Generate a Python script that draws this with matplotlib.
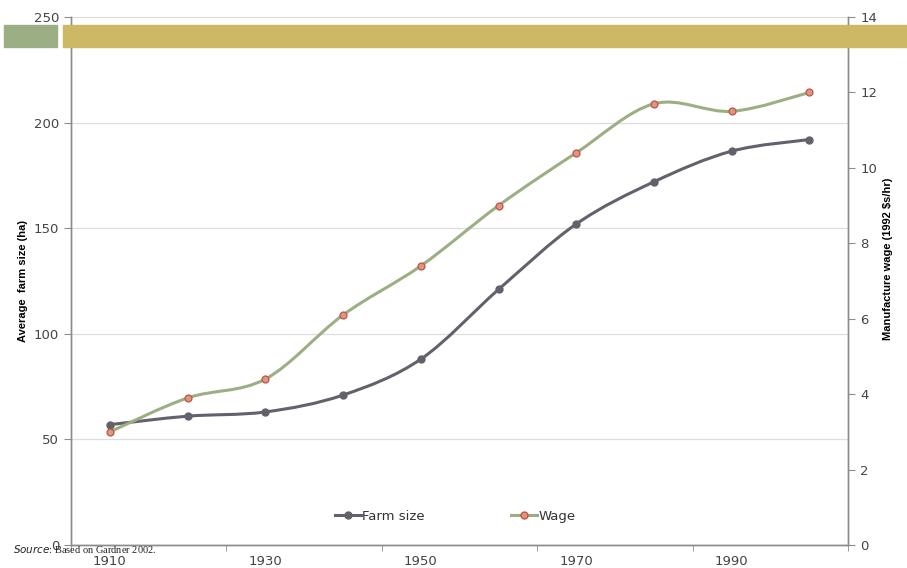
import numpy as np
import matplotlib.pyplot as plt
from matplotlib.path import Path
from matplotlib.patches import PathPatch, Rectangle
from matplotlib.lines import Line2D

years = [1910, 1920, 1930, 1940, 1950, 1960, 1970, 1980, 1990, 2000]
farm_size = [57, 61, 63, 71, 88, 121, 152, 172, 186.5, 192]
wage = [3.0, 3.9, 4.4, 6.1, 7.4, 9.0, 10.4, 11.7, 11.5, 12.0]
year_ticks = [1910, 1930, 1950, 1970, 1990]

farm_col = '#62626c'
wage_col = '#9caf84'
axis_col = '#8c8c8c'


def smooth_path(x, y, t=1/6):
    # Bezier curve through every point, like a spreadsheet "smoothed line"
    x = np.asarray(x, float)
    y = np.asarray(y, float)
    pts = np.column_stack([x, y])
    verts = [pts[0]]
    codes = [Path.MOVETO]
    n = len(pts)
    for i in range(n - 1):
        p0 = pts[i - 1] if i > 0 else pts[i]
        p1 = pts[i]
        p2 = pts[i + 1]
        p3 = pts[i + 2] if i + 2 < n else pts[i + 1]
        c1 = p1 + (p2 - p0) * t
        c2 = p2 - (p3 - p1) * t
        verts += [c1, c2, p2]
        codes += [Path.CURVE4] * 3
    return Path(verts, codes)


fig = plt.figure(figsize=(9.07, 5.68), dpi=100)
ax = fig.add_axes([0.0783, 0.0405, 0.857, 0.9295])
ax2 = ax.twinx()

ax.set_xlim(1905, 2005)
ax.set_ylim(0, 250)
ax2.set_ylim(0, 14)

ax.set_yticks(range(0, 251, 50))
ax2.set_yticks(range(0, 15, 2))
ax.set_xticks(year_ticks)
ax.set_xticks(range(1905, 2006, 20), minor=True)

for a in (ax, ax2):
    a.spines['top'].set_visible(False)
    for s in ('left', 'right', 'bottom'):
        a.spines[s].set_color(axis_col)
        a.spines[s].set_linewidth(1.0)
    a.tick_params(colors='#444444', labelsize=9.5, length=5, width=0.8)
    a.tick_params(axis='y', color=axis_col)
ax.tick_params(axis='x', which='major', length=0, pad=7.5)
ax.tick_params(axis='x', which='minor', length=4, color=axis_col)
ax.grid(axis='y', color='#dddddd', linewidth=0.9)
ax.set_axisbelow(True)

ax.set_ylabel('Average  farm size (ha)', fontsize=8, fontweight='bold',
              family='Liberation Sans', labelpad=4)
ax.yaxis.set_label_coords(-0.055, 0.5)
ax2.set_ylabel('Manufacture wage (1992 $s/hr)', fontsize=8, fontweight='bold',
               family='Liberation Sans')
ax2.yaxis.set_label_coords(1.045, 0.542)

# smoothed lines
ax.add_patch(PathPatch(smooth_path(years, farm_size), fill=False,
                       edgecolor=farm_col, linewidth=2.2, zorder=3))
ax2.add_patch(PathPatch(smooth_path(years, wage), fill=False,
                        edgecolor=wage_col, linewidth=2.2, zorder=3))
ax.plot(years, farm_size, 'o', color=farm_col, markersize=5, zorder=4)
ax2.plot(years, wage, 'o', markerfacecolor='#d69a80', markeredgecolor='#c8504a',
         markeredgewidth=0.9, markersize=5, zorder=4)

handles = [
    Line2D([], [], color=farm_col, lw=2.2, marker='o', markersize=5),
    Line2D([], [], color=wage_col, lw=2.2, marker='o', markersize=5,
           markerfacecolor='#d69a80', markeredgecolor='#c8504a'),
]
ax2.legend(handles, ['Farm size', 'Wage'], loc='lower center',
           bbox_to_anchor=(0.494, 0.02), ncol=2, frameon=False, fontsize=9.5,
           handlelength=2.0, handletextpad=0.1, columnspacing=6.5,
           labelcolor='#333333')

# header bars
fig.patches.append(Rectangle((4 / 907, 1 - 47 / 568), 53 / 907, 22 / 568,
                             transform=fig.transFigure, color='#9caf84', zorder=5))
fig.patches.append(Rectangle((63 / 907, 1 - 47 / 568), 844 / 907, 22 / 568,
                             transform=fig.transFigure, color='#cdb865', zorder=5))

fig.text(13 / 907, 1 - 549 / 568, r'$\it{Source}$: Based on Gardner 2002.',
         fontsize=7.5, family='Liberation Serif', va='center', color='#222222')

fig.savefig('out.png', dpi=100)
